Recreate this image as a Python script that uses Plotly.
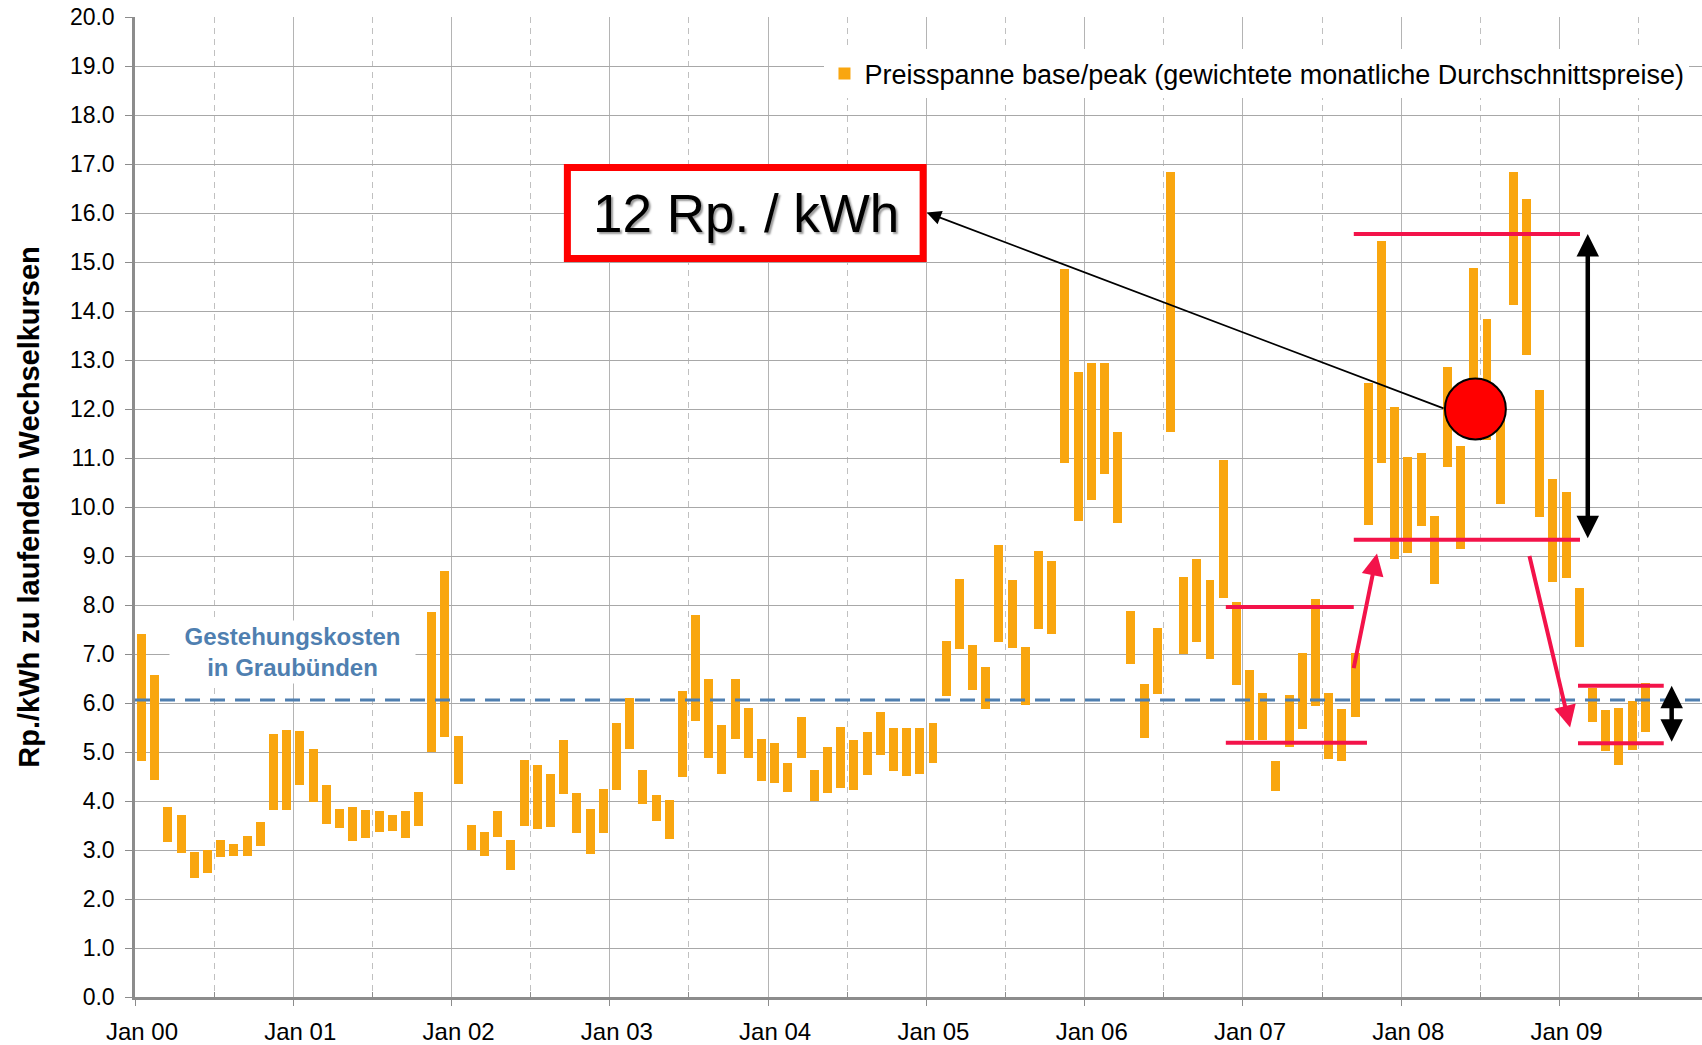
import plotly.graph_objects as go

# ---------------- data ----------------
year_labels = ["Jan 00", "Jan 01", "Jan 02", "Jan 03", "Jan 04",
               "Jan 05", "Jan 06", "Jan 07", "Jan 08", "Jan 09"]

# monthly price range (Rp./kWh): low (base) and high (peak), Jan 2000 .. Jul 2009
price_low = [
    4.81, 4.42, 3.16, 2.93, 2.42, 2.54, 2.85, 2.87, 2.87, 3.08, 3.81, 3.81,   # 2000
    4.32, 3.97, 3.54, 3.44, 3.18, 3.24, 3.36, 3.38, 3.24, 3.48, 5.00, 5.30,   # 2001
    4.34, 2.99, 2.87, 3.26, 2.59, 3.48, 3.42, 3.46, 4.14, 3.34, 2.91, 3.34,   # 2002
    4.22, 5.07, 3.93, 3.59, 3.22, 4.50, 5.64, 4.88, 4.56, 5.27, 4.87, 4.40,   # 2003
    4.36, 4.18, 4.87, 4.01, 4.16, 4.26, 4.22, 4.54, 4.93, 4.61, 4.52, 4.56,   # 2004
    4.77, 6.14, 7.10, 6.26, 5.87, 7.24, 7.12, 5.95, 7.52, 7.40, 10.90, 9.71,  # 2005
    10.14, 10.68, 9.67, 6.79, 5.28, 6.18, 11.53, 7.01, 7.24, 6.89, 8.14, 6.37,  # 2006
    5.24, 5.24, 4.20, 5.10, 5.46, 5.94, 4.86, 4.81, 5.71, 9.63, 10.89, 8.93,  # 2007
    9.07, 9.61, 8.42, 10.81, 9.14, 11.60, 11.36, 10.07, 14.12, 13.11, 9.79, 8.47,  # 2008
    8.56, 7.15, 5.62, 5.03, 4.73, 5.05, 5.40,                                  # 2009
]
price_high = [
    7.41, 6.58, 3.88, 3.72, 2.95, 3.01, 3.21, 3.13, 3.28, 3.57, 5.37, 5.44,
    5.42, 5.07, 4.32, 3.83, 3.87, 3.81, 3.79, 3.72, 3.79, 4.18, 7.85, 8.69,
    5.33, 3.52, 3.37, 3.80, 3.21, 4.84, 4.74, 4.56, 5.25, 4.17, 3.84, 4.25,
    5.60, 6.11, 4.64, 4.13, 4.03, 6.25, 7.80, 6.48, 5.56, 6.50, 5.90, 5.27,
    5.19, 4.78, 5.72, 4.64, 5.11, 5.52, 5.25, 5.41, 5.82, 5.50, 5.50, 5.48,
    5.60, 7.27, 8.54, 7.19, 6.74, 9.23, 8.52, 7.15, 9.11, 8.89, 14.85, 12.75,
    12.93, 12.93, 11.54, 7.87, 6.39, 7.54, 16.83, 8.58, 8.94, 8.52, 10.95, 8.07,
    6.68, 6.21, 4.81, 6.17, 7.03, 8.12, 6.21, 5.88, 7.02, 12.54, 15.42, 12.05,
    11.03, 11.10, 9.82, 12.86, 11.25, 14.88, 13.84, 11.90, 16.84, 16.29, 12.38, 10.58,
    10.31, 8.35, 6.31, 5.86, 5.89, 6.05, 6.41,
]

production_cost = 6.06          # Gestehungskosten in Graubünden
highlight_value = 12            # Rp./kWh

# bands drawn in the reference (value levels)
band_2007 = (5.19, 7.96)
band_2008 = (9.33, 15.57)
band_2009 = (5.18, 6.35)

# ---------------- style ----------------
FONT = "Liberation Sans, Arial, Helvetica, sans-serif"
ORANGE = "#F9A60F"
BLUE = "#4F7FB0"
PINK = "#F3134A"
GRID = "#A8A8A8"
AXIS = "#8C8C8C"

month_pos = [m + 0.5 for m in range(len(price_low))]   # centre of each month slot
span = [h - l for h, l in zip(price_high, price_low)]

fig = go.Figure()
fig.add_trace(go.Bar(
    x=month_pos, y=span, base=price_low, width=0.68,
    marker=dict(color=ORANGE, line=dict(width=0)),
    name="Preisspanne base/peak (gewichtete monatliche Durchschnittspreise)",
    showlegend=True,
))

X_MAX = 118.8

shapes = []
# production cost dashed line
shapes.append(dict(type="line", xref="x", yref="y", x0=0, x1=X_MAX,
                   y0=production_cost, y1=production_cost, layer="above",
                   line=dict(color=BLUE, width=3, dash="15px,10px")))
# pink band lines
band_x = [(82.7, 92.4, 93.4), (92.4, 109.55, 109.55), (109.4, 115.9, 115.9)]
for (lo, hi), (xa, xb_hi, xb_lo) in zip([band_2007, band_2008, band_2009], band_x):
    shapes.append(dict(type="line", xref="x", yref="y", x0=xa, x1=xb_lo, y0=lo, y1=lo,
                       layer="above", line=dict(color=PINK, width=4)))
    shapes.append(dict(type="line", xref="x", yref="y", x0=xa, x1=xb_hi, y0=hi, y1=hi,
                       layer="above", line=dict(color=PINK, width=4)))
# red circle
shapes.append(dict(type="circle", xref="x", yref="y", x0=101.62 - 2.31, x1=101.62 + 2.31,
                   y0=highlight_value - 0.622, y1=highlight_value + 0.622, layer="above",
                   fillcolor="#FF0000", line=dict(color="black", width=2)))
# red-bordered box
shapes.append(dict(type="rect", xref="x", yref="y", x0=32.78, x1=59.75, y0=15.07, y1=16.93,
                   layer="above", fillcolor="white", line=dict(color="#FF0000", width=7)))

annotations = []
annotations.append(dict(x=46.3, y=16.0, xref="x", yref="y", text="12 Rp. / kWh",
                        showarrow=False,
                        font=dict(family=FONT, size=53, color="black",
                                  shadow="2px 2px 2px #9a9a9a")))
annotations.append(dict(x=11.93, y=7.05, xref="x", yref="y",
                        text="Gestehungskosten<br>in Graubünden", showarrow=False,
                        width=245, height=62, borderpad=0, bgcolor="white",
                        font=dict(family=FONT, size=24, color=BLUE, weight="bold")))
# black arrow from circle to box
annotations.append(dict(x=60.02, y=16.01, ax=99.32, ay=12.0, xref="x", yref="y",
                        axref="x", ayref="y", text="", showarrow=True,
                        arrowhead=2, arrowsize=1.6, arrowwidth=1.8, arrowcolor="black",
                        standoff=0))
# pink arrows
annotations.append(dict(x=94.16, y=9.05, ax=92.37, ay=6.68, xref="x", yref="y",
                        axref="x", ayref="y", text="", showarrow=True,
                        arrowhead=2, arrowsize=1.1, arrowwidth=4, arrowcolor=PINK,
                        standoff=0))
annotations.append(dict(x=108.8, y=5.50, ax=105.69, ay=9.03, xref="x", yref="y",
                        axref="x", ayref="y", text="", showarrow=True,
                        arrowhead=2, arrowsize=1.1, arrowwidth=4, arrowcolor=PINK,
                        standoff=0))
# black double arrows
for xx, (lo, hi) in [(110.14, band_2008), (116.5, band_2009)]:
    annotations.append(dict(x=xx, y=hi, ax=xx, ay=lo,
                            xref="x", yref="y", axref="x", ayref="y", text="",
                            showarrow=True, arrowhead=2, startarrowhead=2,
                            arrowside="end+start",
                            arrowsize=1.0, startarrowsize=1.0, arrowwidth=4.5,
                            arrowcolor="black", standoff=0, startstandoff=0))

fig.update_layout(
    width=1702, height=1045,
    margin=dict(l=135, r=0, t=17, b=48, pad=0),
    paper_bgcolor="white", plot_bgcolor="white",
    font=dict(family=FONT, color="black"),
    bargap=0,
    shapes=shapes, annotations=annotations,
    legend=dict(x=0.44, xanchor="left", y=0.967, yanchor="top",
                bgcolor="white", borderwidth=0, orientation="h",
                font=dict(family=FONT, size=27, color="black")),
    xaxis=dict(range=[0, X_MAX], tickmode="array",
               tickvals=[12 * k for k in range(len(year_labels))], ticktext=year_labels,
               ticklabelshift=7, ticklabelstandoff=5,
               showgrid=True, gridcolor="#B4B4B4", gridwidth=1,
               minor=dict(tickmode="array",
                          tickvals=[12 * k + 6 for k in range(len(year_labels))],
                          showgrid=True, griddash="6px,5px", gridcolor="#C0C0C0",
                          gridwidth=1, ticks="inside", ticklen=5, tickcolor=AXIS),
               showline=True, linecolor=AXIS, linewidth=2.5,
               ticks="outside", ticklen=6, tickcolor=AXIS,
               zeroline=False, tickfont=dict(family=FONT, size=24, color="black")),
    yaxis=dict(range=[0, 20], dtick=1, tick0=0, tickformat=".1f",
               showgrid=True, gridcolor=GRID, gridwidth=1,
               showline=True, linecolor=AXIS, linewidth=2.5,
               ticks="outside", ticklen=7, tickcolor=AXIS, ticklabelstandoff=6,
               zeroline=False, tickfont=dict(family=FONT, size=23, color="black"),
               title=dict(text="Rp./kWh zu laufenden Wechselkursen", standoff=22,
                          font=dict(family=FONT, size=29, color="black", weight="bold"))),
)

fig.write_html("out.html", include_plotlyjs=True,
               config={"displayModeBar": False},
               post_script="document.body.style.margin='0';document.body.style.overflow='hidden';")
